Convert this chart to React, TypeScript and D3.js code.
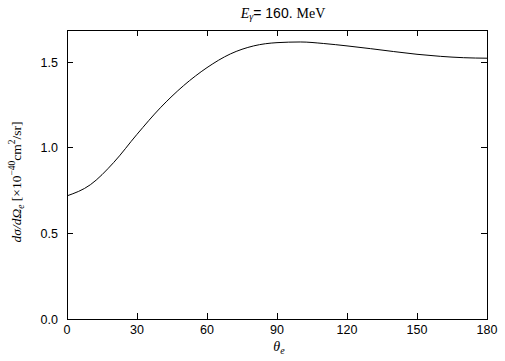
import React from "react";
import * as d3 from "d3";

const angles = [0, 10, 20, 30, 40, 50, 60, 70, 80, 90, 100, 110, 120, 130, 140, 150, 160, 170, 180];
const crossSection = [0.72, 0.785, 0.915, 1.08, 1.235, 1.365, 1.47, 1.55, 1.597, 1.616, 1.62, 1.611, 1.597, 1.581, 1.564, 1.548, 1.536, 1.528, 1.525];
const xTicks = [0, 30, 60, 90, 120, 150, 180];
const yTicks = [0, 0.5, 1.0, 1.5];
const yTickLabels = ["0.0", "0.5", "1.0", "1.5"];

export default function App() {
  const W = 505, H = 361;
  const L = 67, R = 487, T = 30, B = 319;
  const x = d3.scaleLinear().domain([0, 180]).range([L, R]);
  const y = d3.scaleLinear().domain([0, 1.69]).range([B, T]);
  const pts = angles.map((a, i) => [a, crossSection[i]] as [number, number]);
  const line = d3.line<[number, number]>().x(d => x(d[0])).y(d => y(d[1])).curve(d3.curveMonotoneX);
  const sans = "'Liberation Sans', Arial, sans-serif";
  const serif = "'Liberation Serif', 'Times New Roman', serif";
  const tl = 6;
  return (
    <svg width={W} height={H} style={{ position: "absolute", left: 0, top: 0, background: "#fff" }}>
      <rect x={0} y={0} width={W} height={H} fill="#fff" />
      <rect x={L} y={T} width={R - L} height={B - T} fill="none" stroke="#000" strokeWidth={1} shapeRendering="crispEdges" />
      {xTicks.map(t => (
        <g key={"x" + t}>
          <line x1={x(t)} x2={x(t)} y1={B} y2={B - tl} stroke="#000" shapeRendering="crispEdges" />
          <line x1={x(t)} x2={x(t)} y1={T} y2={T + tl} stroke="#000" shapeRendering="crispEdges" />
          <text x={x(t)} y={334} textAnchor="middle" fontFamily={sans} fontSize={12.5}>{t}</text>
        </g>
      ))}
      {yTicks.map((t, i) => (
        <g key={"y" + t}>
          <line x1={L} x2={L + tl} y1={y(t)} y2={y(t)} stroke="#000" shapeRendering="crispEdges" />
          <line x1={R} x2={R - tl} y1={y(t)} y2={y(t)} stroke="#000" shapeRendering="crispEdges" />
          <text x={58} y={y(t) + 4.5} textAnchor="end" fontFamily={sans} fontSize={12.5}>{yTickLabels[i]}</text>
        </g>
      ))}
      <path d={line(pts) || ""} fill="none" stroke="#000" strokeWidth={1} />
      <text x={283} y={18} textAnchor="middle" fontSize={14} fontFamily={sans}>
        <tspan fontFamily={serif} fontStyle="italic">E</tspan>
        <tspan fontFamily={serif} fontStyle="italic" fontSize={10} dy={2}>γ</tspan>
        <tspan dy={-2}>= 160. </tspan>
        <tspan fontFamily={serif}>MeV</tspan>
      </text>
      <text x={279} y={351} textAnchor="middle" fontFamily={serif} fontSize={14}>
        <tspan fontStyle="italic">θ</tspan>
        <tspan fontStyle="italic" fontSize={10} dy={3}>e</tspan>
      </text>
      <text transform={`translate(21,${182}) rotate(-90)`} textAnchor="middle" fontFamily={serif} fontSize={13.5}>
        <tspan fontStyle="italic">dσ/d</tspan>
        <tspan fontStyle="italic">Ω</tspan>
        <tspan fontStyle="italic" fontSize={9.5} dy={3}>e</tspan>
        <tspan dy={-3}> [×10</tspan>
        <tspan fontSize={9.5} dy={-6}>−40</tspan>
        <tspan dy={6}>cm</tspan>
        <tspan fontSize={9.5} dy={-6}>2</tspan>
        <tspan dy={6}>/sr]</tspan>
      </text>
    </svg>
  );
}
